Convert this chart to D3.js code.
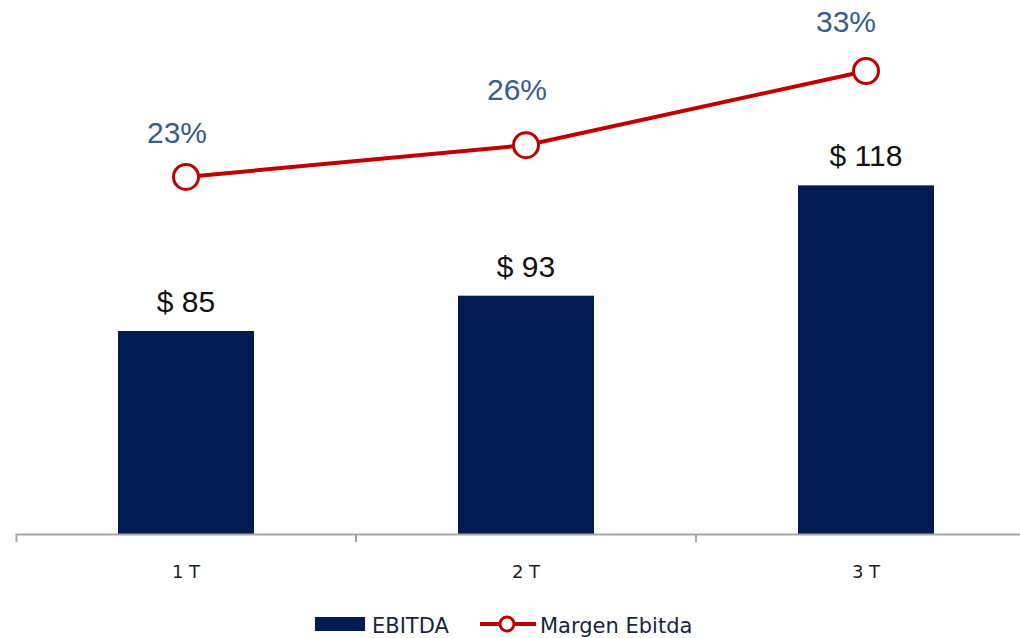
<!DOCTYPE html>
<html>
<head>
<meta charset="utf-8">
<script src="https://cdn.jsdelivr.net/npm/d3@7"></script>
<style>
  html, body { margin: 0; padding: 0; background: #fff; }
  svg { display: block; }
</style>
</head>
<body>
<svg id="chart" width="1020" height="638"></svg>
<script>
// ---- data ----
const categories = ["1 T", "2 T", "3 T"];
const ebitda = [85, 93, 118];
const margin = [0.23, 0.26, 0.33];
const ebitdaLabels = ["$ 85", "$ 93", "$ 118"];
const marginLabels = ["23%", "26%", "33%"];
const legendNames = ["EBITDA", "Margen Ebitda"];

// ---- layout ----
const svg = d3.select("#chart");
const baseY = 534;
const barColor = "#001c50";
const lineColor = "#c00000";

const x = d3.scaleBand().domain(categories).range([16, 1036]).paddingInner(0).paddingOuter(0);
const barW = x.bandwidth() * 0.4;
const y = d3.scaleLinear().domain([39, 160]).range([baseY, 0]);
const y2 = d3.scaleLinear().domain([-0.107, 0.397]).range([baseY, 0]);
const cx = d => x(d) + x.bandwidth() / 2;

// bars
svg.append("g").selectAll("rect").data(categories).join("rect")
  .attr("x", d => cx(d) - barW / 2)
  .attr("width", barW)
  .attr("y", (d, i) => y(ebitda[i]))
  .attr("height", (d, i) => baseY - y(ebitda[i]))
  .attr("fill", barColor);

// axis
const axis = d3.axisBottom(x).tickSize(8).tickSizeOuter(8).tickFormat("");
const gAxis = svg.append("g").attr("transform", `translate(0,${baseY})`).call(axis);
gAxis.selectAll(".domain").attr("stroke", "#a6a6a6").attr("stroke-width", 2);
gAxis.selectAll(".tick line").attr("stroke", "#a6a6a6").attr("stroke-width", 2)
  .attr("transform", `translate(${-x.bandwidth() / 2},0)`);
gAxis.selectAll(".tick").filter((d, i) => i === 0).select("line").remove();

// category labels
svg.append("g").selectAll("text").data(categories).join("text")
  .attr("x", d => cx(d))
  .attr("y", 578)
  .attr("text-anchor", "middle")
  .attr("font-family", "DejaVu Sans, sans-serif")
  .attr("font-size", 18)
  .attr("fill", "#222")
  .text(d => d);

// bar value labels
svg.append("g").selectAll("text").data(categories).join("text")
  .attr("x", d => cx(d))
  .attr("y", (d, i) => y(ebitda[i]) - 19)
  .attr("text-anchor", "middle")
  .attr("font-family", "Liberation Sans, Arial, sans-serif")
  .attr("font-size", 30)
  .attr("fill", "#111")
  .text((d, i) => ebitdaLabels[i]);

// line
const line = d3.line().x(d => cx(d)).y((d, i) => y2(margin[i]));
svg.append("path").datum(categories)
  .attr("d", line)
  .attr("fill", "none")
  .attr("stroke", lineColor)
  .attr("stroke-width", 4);

svg.append("g").selectAll("circle").data(categories).join("circle")
  .attr("cx", d => cx(d))
  .attr("cy", (d, i) => y2(margin[i]))
  .attr("r", 12.5)
  .attr("fill", "#fff")
  .attr("stroke", lineColor)
  .attr("stroke-width", 3);

// percent labels (offsets as placed in the original)
const lblDx = [-9, -9, -20];
const lblDy = [-34, -45, -39];
svg.append("g").selectAll("text").data(categories).join("text")
  .attr("x", (d, i) => cx(d) + lblDx[i])
  .attr("y", (d, i) => y2(margin[i]) + lblDy[i])
  .attr("text-anchor", "middle")
  .attr("font-family", "Liberation Sans, Arial, sans-serif")
  .attr("font-size", 30)
  .attr("fill", "#385d8a")
  .text((d, i) => marginLabels[i]);

// legend
const lg = svg.append("g");
lg.append("rect").attr("x", 315).attr("y", 617).attr("width", 50).attr("height", 14).attr("fill", barColor);
lg.append("text").attr("x", 372).attr("y", 633)
  .attr("font-family", "DejaVu Sans, sans-serif").attr("font-size", 21).attr("fill", "#1c2440")
  .text(legendNames[0]);
lg.append("line").attr("x1", 480).attr("x2", 536).attr("y1", 624).attr("y2", 624)
  .attr("stroke", lineColor).attr("stroke-width", 4);
lg.append("circle").attr("cx", 507).attr("cy", 624).attr("r", 7)
  .attr("fill", "#fff").attr("stroke", lineColor).attr("stroke-width", 3);
lg.append("text").attr("x", 540).attr("y", 633)
  .attr("font-family", "DejaVu Sans, sans-serif").attr("font-size", 21).attr("fill", "#1c2440")
  .text(legendNames[1]);
</script>
</body>
</html>
